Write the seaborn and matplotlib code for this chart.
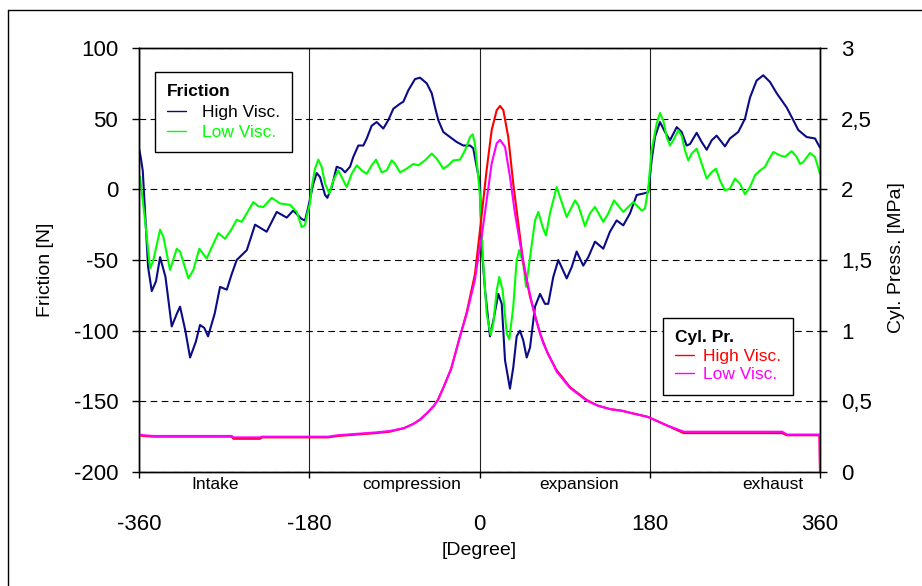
import matplotlib
matplotlib.use("Agg")
import matplotlib.pyplot as plt
from matplotlib.lines import Line2D
from matplotlib.ticker import FixedLocator, FuncFormatter
import seaborn as sns
import pandas as pd

# ---------------- data (crank angle [deg], value) ----------------
friction_high_visc = [
    (-360, 29), (-358, 22), (-356, 13), (-350.4, -55), (-346.5, -72), (-342, -65),
    (-337.7, -48), (-332, -62), (-325.4, -97), (-320, -88), (-316.6, -83), (-311, -100),
    (-306, -119), (-300, -108), (-295.5, -96), (-291, -98), (-287, -104), (-280, -88),
    (-274.3, -69), (-267.2, -71), (-262, -60), (-256.7, -50), (-246, -43), (-237.3, -25),
    (-225, -30), (-214.4, -16), (-203.8, -20), (-197, -15), (-188, -21), (-184.5, -22),
    (-181, -12.5), (-175.7, 4), (-172.1, 11.5), (-168.6, 8.7), (-163.3, -4), (-160.9, -6),
    (-156.2, 1.6), (-151, 16), (-145.7, 14.6), (-142.2, 12), (-136.9, 16), (-133.4, 23),
    (-128.1, 31), (-122.8, 31), (-119.2, 36), (-114, 45), (-108.7, 47.6), (-101.7, 43),
    (-96.4, 49), (-91.1, 57), (-84, 60.6), (-80.5, 62), (-75.3, 70), (-68.2, 78),
    (-62.9, 79), (-55.8, 75), (-50.5, 68), (-47, 58), (-43.6, 49), (-38.3, 40.6),
    (-31.2, 37), (-24.1, 33.5), (-17.1, 31), (-10, 31), (-6.6, 29), (-3, 16), (0.5, 4),
    (2.3, -41), (5.8, -71), (11.1, -104), (14.6, -93), (19.9, -74), (23.5, -81),
    (27, -121), (32.2, -141), (35.7, -126), (39.3, -104), (42.8, -100), (46.3, -107),
    (49.9, -119), (53.4, -112), (58.7, -83), (64, -74), (69.2, -81), (72.7, -81),
    (78, -62), (83.3, -50), (92.2, -63), (97.5, -55), (102.7, -44), (109.7, -54),
    (115, -48), (122.1, -37), (130.9, -42), (137.9, -30), (145, -22), (152, -25.5),
    (159.1, -17), (166.2, -4), (173.2, -3), (178.4, -2), (182, 20.5), (185.5, 37),
    (190.8, 47.6), (196.1, 40.6), (201.4, 34.7), (208.5, 44), (213.7, 40.6), (219, 31),
    (222.5, 32), (229.6, 40), (234.9, 33.5), (240.2, 28), (245.5, 34.7), (250.7, 38),
    (259.5, 30.4), (264.8, 36), (273.6, 40.6), (280.7, 50), (286, 65), (293, 77),
    (300, 80.7), (307.1, 76), (314.2, 68), (324.7, 58), (331.7, 49), (337, 42),
    (345.9, 37), (354.7, 36), (360, 29.5),
]

friction_low_visc = [
    (-360, 10), (-358.9, 8.7), (-353.6, -22), (-348.3, -56), (-344.8, -50), (-337.7, -28.5),
    (-334.2, -33.7), (-327.2, -57), (-320.1, -42), (-316.6, -44), (-307.8, -63), (-302.5, -57),
    (-296.2, -42), (-288.4, -49), (-283.1, -41), (-276.1, -31), (-269, -35), (-262, -28),
    (-256.7, -21.5), (-251.4, -23), (-246.1, -17), (-239.1, -9), (-233.8, -12), (-228.5, -12.5),
    (-219.7, -6), (-210.9, -10), (-200.3, -11), (-193.2, -16), (-188, -26.7), (-184.5, -25.5),
    (-182.7, -19), (-179.2, -10), (-177.4, 1.6), (-173.9, 14.6), (-170.4, 21), (-166.8, 15.8),
    (-163.3, 4), (-158.8, -3), (-154.5, 6.4), (-149.3, 13.4), (-144, 6.4), (-140.4, 1.6),
    (-135.1, 11), (-129.8, 17), (-124.5, 13.4), (-119.2, 11), (-114, 17), (-109.4, 21),
    (-103.4, 12), (-98.1, 13.4), (-92.8, 20.5), (-89.3, 18), (-84, 12), (-77, 14.6),
    (-70, 18), (-64.7, 17), (-57.6, 20.5), (-50.5, 25.3), (-45.2, 21.7), (-38.3, 14.6),
    (-33, 17), (-27.7, 20.5), (-20.6, 21), (-15.3, 27.6), (-10, 37), (-7.2, 39),
    (-4.8, 32), (-1.3, 8.7), (0.5, -5), (4, -52.6), (7.6, -88), (11.8, -103),
    (14.6, -95), (18.2, -71.5), (20.9, -62), (24.5, -71.5), (28.8, -102), (31.5, -106),
    (35.7, -83), (39.3, -50), (42.1, -43), (46.3, -52.6), (49.2, -69), (53.4, -48),
    (58.7, -22), (62.2, -16), (66.8, -26.7), (70.3, -32.6), (74.5, -17), (81.6, 1.6),
    (88.6, -12.5), (92.2, -19.6), (101, -7.8), (104.4, -11.3), (111.5, -26), (116.8, -17),
    (122.1, -12.5), (130.9, -23), (136.2, -17), (142.2, -7.8), (152, -16), (162.6, -9),
    (171.5, -15), (174.9, -13.7), (178.4, 0.5), (182, 27.6), (187.3, 46.5), (190.8, 54),
    (194.3, 48.8), (197.9, 37), (201.4, 31), (204.9, 34.7), (210.1, 41.8), (213.7, 38),
    (217.2, 27.6), (220.7, 20.5), (224.3, 25.3), (229.6, 28.8), (234.9, 18.2), (240.2, 7.6),
    (245.5, 12.2), (250, 14.6), (254.2, 6.4), (259.5, -0.7), (264.8, 0.5), (270.1, 7.6),
    (275.4, 4), (280.7, -3.5), (286, 1.6), (291.3, 10), (296.6, 13.4), (301.8, 15.8),
    (305.4, 20.5), (310.6, 26.4), (317.7, 24), (323, 23), (330, 27), (335.3, 23),
    (338.8, 18), (342.3, 19.3), (349.4, 25.7), (354.7, 23), (360, 11),
]

pressure_high_visc = [
    (-360, 0.26), (-355, 0.255), (-345, 0.25), (-262, 0.25), (-260, 0.235), (-232, 0.235),
    (-230, 0.245), (-160, 0.245), (-150, 0.255), (-130, 0.265), (-110, 0.275), (-95, 0.285),
    (-80, 0.31), (-70, 0.34), (-63, 0.37), (-55, 0.42), (-48, 0.47), (-44, 0.51),
    (-38, 0.60), (-30, 0.73), (-20.6, 0.96), (-13.5, 1.13), (-4.8, 1.40), (0.5, 1.71),
    (7.6, 2.14), (12.9, 2.42), (18.2, 2.56), (21.7, 2.59), (25.2, 2.56), (30.4, 2.37),
    (35.7, 2.04), (41, 1.76), (46.3, 1.48), (53.4, 1.24), (64, 0.98), (72, 0.84),
    (81.6, 0.72), (95.7, 0.60), (113.3, 0.51), (125, 0.47), (138, 0.445), (150, 0.434),
    (165, 0.41), (178, 0.39), (188, 0.36), (197, 0.333), (206, 0.305), (216, 0.275),
    (320, 0.275), (325, 0.26), (359.5, 0.26), (360, 0.0),
]

pressure_low_visc = [
    (-360, 0.265), (-355, 0.26), (-345, 0.255), (-262, 0.255), (-260, 0.245), (-232, 0.245),
    (-230, 0.25), (-160, 0.25), (-150, 0.26), (-130, 0.27), (-110, 0.28), (-95, 0.29),
    (-80, 0.31), (-70, 0.34), (-63, 0.37), (-55, 0.42), (-48, 0.47), (-44, 0.51),
    (-38, 0.60), (-30, 0.73), (-20.6, 0.96), (-13.5, 1.12), (-4.8, 1.36), (0.5, 1.60),
    (2.3, 1.665), (7.6, 1.925), (12.9, 2.184), (18.2, 2.326), (21.7, 2.35), (27, 2.30),
    (32.2, 2.09), (37.5, 1.83), (42.8, 1.62), (49.9, 1.36), (58.7, 1.10), (67.4, 0.91),
    (81.6, 0.71), (95.7, 0.595), (113.3, 0.505), (125, 0.47), (138, 0.445), (150, 0.434),
    (165, 0.41), (178, 0.39), (188, 0.36), (197, 0.333), (206, 0.31), (216, 0.285),
    (320, 0.285), (325, 0.265), (359.5, 0.265), (360, 0.0),
]

x_ticks = [-360, -180, 0, 180, 360]
friction_ticks = [-200, -150, -100, -50, 0, 50, 100]
pressure_ticks = [0, 0.5, 1, 1.5, 2, 2.5, 3]
phase_labels = ["Intake", "compression", "expansion", "exhaust"]
phase_pos = [-279, -72, 105, 310]

NAVY = "#0b0b86"
GREEN = "#00ff00"
RED = "#ff0000"
MAGENTA = "#ff00ff"

# ---------------- style ----------------
sns.set_style("white")
plt.rcParams["font.family"] = ["Liberation Sans", "DejaVu Sans"]
plt.rcParams["axes.edgecolor"] = "black"
plt.rcParams["axes.unicode_minus"] = False
plt.rcParams["text.color"] = "black"
plt.rcParams["axes.labelcolor"] = "black"
plt.rcParams["xtick.color"] = "black"
plt.rcParams["ytick.color"] = "black"

fig = plt.figure(figsize=(9.22, 5.86), dpi=100)
ax = fig.add_axes([139 / 922, 1 - 472 / 586, 681 / 922, 424 / 586])

def frame(rows):
    return pd.DataFrame(rows, columns=["deg", "val"])

sns.lineplot(data=frame(friction_high_visc), x="deg", y="val", ax=ax, color=NAVY,
             lw=1.5, sort=False, estimator=None, label="High Visc.")
sns.lineplot(data=frame(friction_low_visc), x="deg", y="val", ax=ax, color=GREEN,
             lw=1.5, sort=False, estimator=None, label="Low Visc.")

ax.set_xlim(-360, 360)
ax.set_ylim(-200, 100)
ax.xaxis.set_major_locator(FixedLocator(x_ticks))
ax.yaxis.set_major_locator(FixedLocator(friction_ticks))

ax.yaxis.grid(True, color="black", linestyle=(0, (6, 4)), lw=0.8)
ax.xaxis.grid(True, color="#222222", linestyle="-", lw=0.8)
ax.set_axisbelow(True)

for s in ax.spines.values():
    s.set_color("black")
    s.set_linewidth(1.0)

ax.tick_params(axis="y", which="major", direction="out", length=5, width=1,
               labelsize=16, pad=10, left=True, colors="black")
ax.tick_params(axis="x", which="major", direction="out", length=4, width=1,
               labelsize=16, pad=26, bottom=True, colors="black")

ax.set_xlabel("[Degree]", fontsize=14, color="black")
ax.xaxis.set_label_coords(0.5, -0.184)
ax.xaxis.label.set_va("center")
ax.set_ylabel("Friction [N]", fontsize=14, color="black")
ax.yaxis.set_label_coords(-0.138, 0.476)
ax.yaxis.label.set_va("center")

for lab, pos in zip(phase_labels, phase_pos):
    ax.text(pos, -0.03, lab, transform=ax.get_xaxis_transform(), ha="center",
            va="center", fontsize=12.5, color="black")

# friction legend
leg1 = ax.legend(title="Friction", loc="upper left", bbox_to_anchor=(0.0235, 0.943),
                 borderaxespad=0, fontsize=12.5, title_fontproperties={"weight": "bold", "size": 12.5},
                 alignment="left", frameon=True, fancybox=False, edgecolor="black",
                 framealpha=1, handlelength=1.1, handletextpad=0.9, labelspacing=0.3,
                 borderpad=0.7)
leg1.get_frame().set_linewidth(1.0)
for line in leg1.get_lines():
    line.set_linewidth(1.0)
leg1.get_texts()[0].set_color("black")
leg1.get_texts()[1].set_color(GREEN)
leg1.get_title().set_color("black")

# pressure axis
ax2 = ax.twinx()
sns.lineplot(data=frame(pressure_high_visc), x="deg", y="val", ax=ax2, color=RED,
             lw=1.5, sort=False, estimator=None, label="High Visc.")
sns.lineplot(data=frame(pressure_low_visc), x="deg", y="val", ax=ax2, color=MAGENTA,
             lw=1.5, sort=False, estimator=None, label="Low Visc.")
ax2.set_ylim(0, 3)
ax2.set_xlim(-360, 360)
ax2.yaxis.set_major_locator(FixedLocator(pressure_ticks))
ax2.yaxis.set_major_formatter(FuncFormatter(lambda v, p: f"{v:g}".replace(".", ",")))
ax2.tick_params(axis="y", direction="out", length=5, width=1, labelsize=16, pad=10,
                right=True, colors="black")
ax2.grid(False)
for s in ax2.spines.values():
    s.set_color("black")
    s.set_linewidth(1.0)
ax2.set_ylabel("Cyl. Press. [MPa]", fontsize=14, color="black")
ax2.yaxis.set_label_coords(1.113, 0.505)
ax2.yaxis.label.set_va("center")

leg2 = ax2.legend(title="Cyl. Pr.", loc="upper left", bbox_to_anchor=(0.769, 0.363),
                  borderaxespad=0, fontsize=12.5, title_fontproperties={"weight": "bold", "size": 12.5},
                  alignment="left", frameon=True, fancybox=False, edgecolor="black",
                  framealpha=1, handlelength=1.1, handletextpad=0.5, labelspacing=0.2,
                  borderpad=0.7, labelcolor="linecolor")
leg2.get_frame().set_linewidth(1.0)
for line in leg2.get_lines():
    line.set_linewidth(1.0)
leg2.get_title().set_color("black")

# outer chart frame
fig.add_artist(Line2D([8 / 922, 8 / 922], [0, 1 - 10 / 586], color="black", lw=1.0,
                      transform=fig.transFigure))
fig.add_artist(Line2D([8 / 922, 1], [1 - 10 / 586, 1 - 10 / 586], color="black", lw=1.0,
                      transform=fig.transFigure))

fig.savefig("out.png", dpi=100)
